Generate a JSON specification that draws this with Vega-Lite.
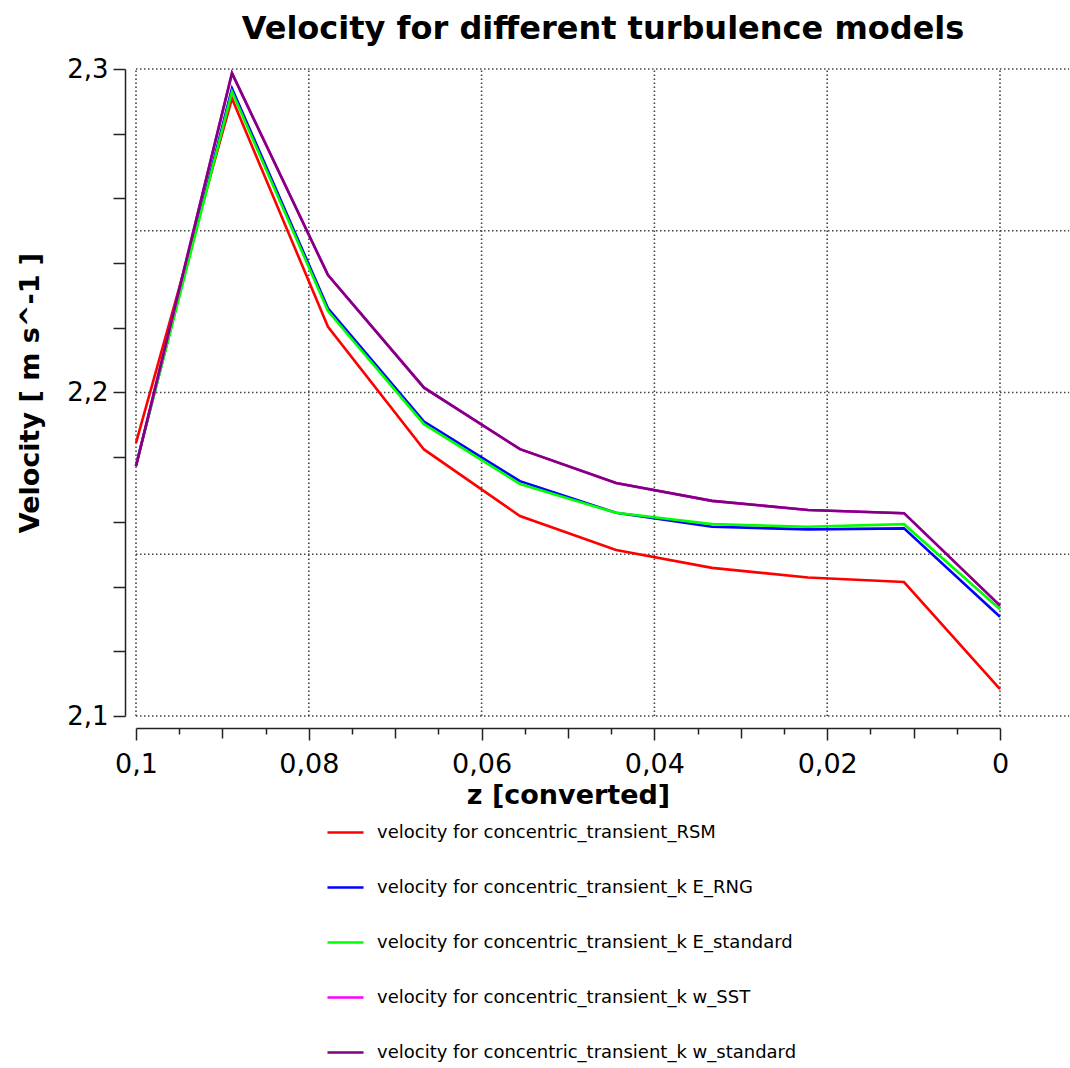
{
  "$schema": "https://vega.github.io/schema/vega-lite/v6.json",
  "width": 864,
  "height": 647,
  "autosize": {"type": "none"},
  "padding": {"left": 136, "top": 69, "right": 70, "bottom": 352},
  "background": "white",
  "config": {"view": {"stroke": null}, "font": "DejaVu Sans"},
  "title": {
    "text": "Velocity for different turbulence models",
    "font": "DejaVu Sans",
    "fontSize": 32,
    "fontWeight": "bold",
    "color": "black",
    "anchor": "middle",
    "dx": 35,
    "offset": 10
  },
  "datasets": {
    "gridx": [{"z": 0.1}, {"z": 0.08}, {"z": 0.06}, {"z": 0.04}, {"z": 0.02}, {"z": 0}],
    "gridy": [{"v": 2.1}, {"v": 2.15}, {"v": 2.2}, {"v": 2.25}, {"v": 2.3}],
    "lines": [
      {"series": "velocity for concentric_transient_RSM", "z": 0.1, "v": 2.1844},
      {"series": "velocity for concentric_transient_RSM", "z": 0.08889, "v": 2.2909},
      {"series": "velocity for concentric_transient_RSM", "z": 0.07778, "v": 2.2203},
      {"series": "velocity for concentric_transient_RSM", "z": 0.06667, "v": 2.1824},
      {"series": "velocity for concentric_transient_RSM", "z": 0.05556, "v": 2.1618},
      {"series": "velocity for concentric_transient_RSM", "z": 0.04444, "v": 2.1513},
      {"series": "velocity for concentric_transient_RSM", "z": 0.03333, "v": 2.1458},
      {"series": "velocity for concentric_transient_RSM", "z": 0.02222, "v": 2.1428},
      {"series": "velocity for concentric_transient_RSM", "z": 0.01111, "v": 2.1414},
      {"series": "velocity for concentric_transient_RSM", "z": 0, "v": 2.1083},
      {"series": "velocity for concentric_transient_k E_RNG", "z": 0.1, "v": 2.1775},
      {"series": "velocity for concentric_transient_k E_RNG", "z": 0.08889, "v": 2.294},
      {"series": "velocity for concentric_transient_k E_RNG", "z": 0.07778, "v": 2.226},
      {"series": "velocity for concentric_transient_k E_RNG", "z": 0.06667, "v": 2.191},
      {"series": "velocity for concentric_transient_k E_RNG", "z": 0.05556, "v": 2.1726},
      {"series": "velocity for concentric_transient_k E_RNG", "z": 0.04444, "v": 2.1628},
      {"series": "velocity for concentric_transient_k E_RNG", "z": 0.03333, "v": 2.1585},
      {"series": "velocity for concentric_transient_k E_RNG", "z": 0.02222, "v": 2.1577},
      {"series": "velocity for concentric_transient_k E_RNG", "z": 0.01111, "v": 2.158},
      {"series": "velocity for concentric_transient_k E_RNG", "z": 0, "v": 2.1307},
      {"series": "velocity for concentric_transient_k E_standard", "z": 0.1, "v": 2.1775},
      {"series": "velocity for concentric_transient_k E_standard", "z": 0.08889, "v": 2.293},
      {"series": "velocity for concentric_transient_k E_standard", "z": 0.07778, "v": 2.2252},
      {"series": "velocity for concentric_transient_k E_standard", "z": 0.06667, "v": 2.1902},
      {"series": "velocity for concentric_transient_k E_standard", "z": 0.05556, "v": 2.1717},
      {"series": "velocity for concentric_transient_k E_standard", "z": 0.04444, "v": 2.1628},
      {"series": "velocity for concentric_transient_k E_standard", "z": 0.03333, "v": 2.1593},
      {"series": "velocity for concentric_transient_k E_standard", "z": 0.02222, "v": 2.1585},
      {"series": "velocity for concentric_transient_k E_standard", "z": 0.01111, "v": 2.1593},
      {"series": "velocity for concentric_transient_k E_standard", "z": 0, "v": 2.133},
      {"series": "velocity for concentric_transient_k w_SST", "z": 0.1, "v": 2.1772},
      {"series": "velocity for concentric_transient_k w_SST", "z": 0.08889, "v": 2.2987},
      {"series": "velocity for concentric_transient_k w_SST", "z": 0.07778, "v": 2.2363},
      {"series": "velocity for concentric_transient_k w_SST", "z": 0.06667, "v": 2.2015},
      {"series": "velocity for concentric_transient_k w_SST", "z": 0.05556, "v": 2.1825},
      {"series": "velocity for concentric_transient_k w_SST", "z": 0.04444, "v": 2.172},
      {"series": "velocity for concentric_transient_k w_SST", "z": 0.03333, "v": 2.1665},
      {"series": "velocity for concentric_transient_k w_SST", "z": 0.02222, "v": 2.1637},
      {"series": "velocity for concentric_transient_k w_SST", "z": 0.01111, "v": 2.1627},
      {"series": "velocity for concentric_transient_k w_SST", "z": 0, "v": 2.1341},
      {"series": "velocity for concentric_transient_k w_standard", "z": 0.1, "v": 2.1772},
      {"series": "velocity for concentric_transient_k w_standard", "z": 0.08889, "v": 2.2987},
      {"series": "velocity for concentric_transient_k w_standard", "z": 0.07778, "v": 2.2363},
      {"series": "velocity for concentric_transient_k w_standard", "z": 0.06667, "v": 2.2015},
      {"series": "velocity for concentric_transient_k w_standard", "z": 0.05556, "v": 2.1825},
      {"series": "velocity for concentric_transient_k w_standard", "z": 0.04444, "v": 2.172},
      {"series": "velocity for concentric_transient_k w_standard", "z": 0.03333, "v": 2.1665},
      {"series": "velocity for concentric_transient_k w_standard", "z": 0.02222, "v": 2.1637},
      {"series": "velocity for concentric_transient_k w_standard", "z": 0.01111, "v": 2.1627},
      {"series": "velocity for concentric_transient_k w_standard", "z": 0, "v": 2.1341}
    ]
  },
  "layer": [
    {
      "data": {"name": "gridx"},
      "mark": {"type": "rule", "color": "#444444", "strokeWidth": 1.6, "strokeDash": [1.5, 2.5]},
      "encoding": {
        "x": {"field": "z", "type": "quantitative"},
        "y": {"datum": 2.1},
        "y2": {"datum": 2.3}
      }
    },
    {
      "data": {"name": "gridy"},
      "mark": {"type": "rule", "color": "#444444", "strokeWidth": 1.6, "strokeDash": [1.5, 2.5]},
      "encoding": {
        "y": {"field": "v", "type": "quantitative"},
        "x": {"datum": 0.1},
        "x2": {"datum": -0.008}
      }
    },
    {
      "data": {"name": "lines"},
      "mark": {"type": "line", "strokeWidth": 2.6, "clip": false},
      "encoding": {
        "x": {
          "field": "z",
          "type": "quantitative",
          "scale": {"domain": [0.1, 0], "nice": false, "zero": false},
          "axis": {
            "title": "z [converted]",
            "titleFont": "DejaVu Sans",
            "titleFontSize": 27,
            "titleFontWeight": "bold",
            "titleColor": "black",
            "titlePadding": 5,
            "values": [0.1, 0.095, 0.09, 0.085, 0.08, 0.075, 0.07, 0.065, 0.06, 0.055, 0.05, 0.045, 0.04, 0.035, 0.03, 0.025, 0.02, 0.015, 0.01, 0.005, 0],
            "labelExpr": "round(datum.value*1000) % 20 == 0 ? replace(format(datum.value, ''), '.', ',') : ''",
            "labelFont": "DejaVu Sans",
            "labelFontSize": 27,
            "labelColor": "black",
            "labelPadding": 11,
            "labelOverlap": false,
            "labelFlush": false,
            "grid": false,
            "offset": 12,
            "domainColor": "#222222",
            "domainWidth": 1.5,
            "tickColor": "#222222",
            "tickWidth": 1.5,
            "tickSize": {"condition": [{"test": "round(datum.value*1000) % 20 == 0", "value": 12}, {"test": "round(datum.value*1000) % 10 == 0", "value": 10}], "value": 6}
          }
        },
        "y": {
          "field": "v",
          "type": "quantitative",
          "scale": {"domain": [2.1, 2.3], "nice": false, "zero": false},
          "axis": {
            "title": "Velocity [ m s^-1 ]",
            "titleFont": "DejaVu Sans",
            "titleFontSize": 27,
            "titleFontWeight": "bold",
            "titleColor": "black",
            "titlePadding": 22,
            "values": [2.1, 2.11, 2.12, 2.13, 2.14, 2.15, 2.16, 2.17, 2.18, 2.19, 2.2, 2.21, 2.22, 2.23, 2.24, 2.25, 2.26, 2.27, 2.28, 2.29, 2.3],
            "labelExpr": "round(datum.value*100) % 5 == 0 ? replace(format(datum.value, ''), '.', ',') : ''",
            "labelFont": "DejaVu Sans",
            "labelFontSize": 26,
            "labelColor": "black",
            "labelPadding": 5,
            "labelOverlap": false,
            "labelFlush": false,
            "grid": false,
            "offset": 11,
            "domainColor": "#222222",
            "domainWidth": 1.5,
            "tickColor": "#222222",
            "tickWidth": 1.5,
            "tickSize": 12
          }
        },
        "color": {
          "field": "series",
          "type": "nominal",
          "scale": {
            "domain": [
              "velocity for concentric_transient_RSM",
              "velocity for concentric_transient_k E_RNG",
              "velocity for concentric_transient_k E_standard",
              "velocity for concentric_transient_k w_SST",
              "velocity for concentric_transient_k w_standard"
            ],
            "range": ["#ff0000", "#0000ff", "#00ff00", "#ff00ff", "#800080"]
          },
          "legend": {
            "orient": "none",
            "legendX": 190,
            "legendY": 744,
            "title": null,
            "symbolType": "stroke",
            "symbolSize": 1300,
            "symbolStrokeWidth": 2.5,
            "labelFont": "DejaVu Sans",
            "labelFontSize": 18,
            "labelColor": "black",
            "labelLimit": 1000,
            "labelOffset": 12,
            "rowPadding": 26
          }
        }
      }
    }
  ]
}
